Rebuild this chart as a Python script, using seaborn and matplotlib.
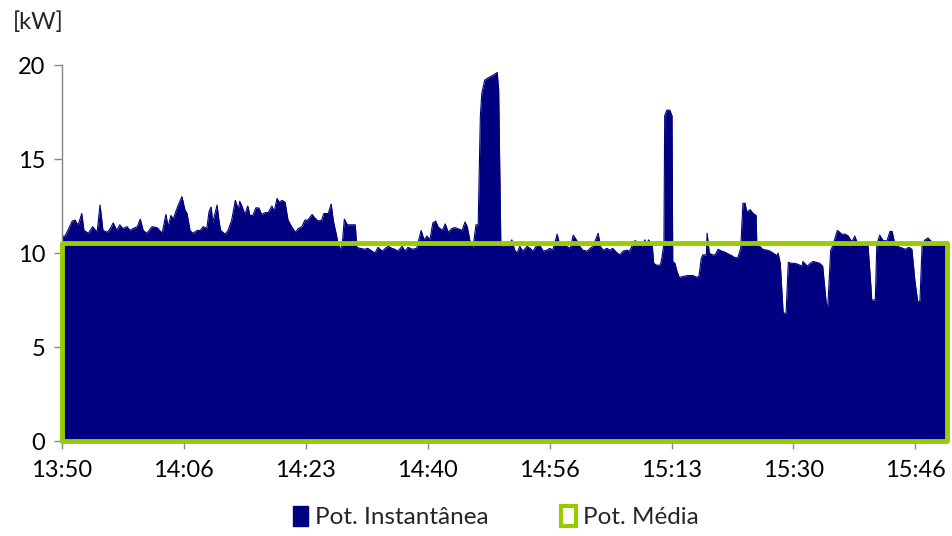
import numpy as np
import matplotlib
matplotlib.use("Agg")
import matplotlib.pyplot as plt
import matplotlib.patches as mpatches
import seaborn as sns

# minutes after 13:50 and instantaneous power (kW)
minutos = [
    0.0, 0.4, 0.8, 1.4, 1.8, 2.1, 2.3, 2.7, 3.0, 3.6, 4.2, 4.8, 5.2, 5.6, 6.2, 6.6,
    7.0, 7.5, 7.9, 8.3, 8.9, 9.3, 9.7, 10.3, 10.7, 11.1, 11.6, 12.3, 13.0, 13.7,
    14.2, 14.5, 14.9, 15.2, 15.6, 16.0, 16.4, 16.8, 17.1, 17.5, 17.9, 18.5, 18.9,
    19.3, 19.8, 20.1, 20.4, 20.6, 21.2, 21.5, 21.7, 22.3, 22.7, 23.2, 23.7, 24.1,
    24.3, 24.6, 25.0, 25.4, 25.7, 26.1, 26.5, 26.9, 27.3, 27.8, 28.2, 28.7, 29.0,
    29.4, 29.7, 30.1, 30.5, 30.9, 31.4, 31.9, 32.3, 32.8, 33.2, 33.6, 34.2, 34.6,
    35.0, 35.5, 35.8, 36.4, 36.8, 37.1, 37.5, 37.7, 38.0, 38.3, 38.6, 39.0, 39.7,
    40.1, 40.3, 40.7, 41.4, 41.8, 42.4, 42.8, 43.2, 43.8, 44.2, 44.6, 45.1, 45.5,
    45.9, 46.5, 46.9, 47.3, 47.9, 48.5, 49.1, 49.5, 49.9, 50.3, 50.7, 51.1, 51.4,
    52.0, 52.4, 52.8, 53.3, 53.7, 54.1, 54.7, 55.1, 55.4, 55.8, 56.2, 56.6, 56.9,
    57.2, 57.4, 57.8, 58.2, 58.9, 59.5, 59.7, 60.0, 60.6, 61.0, 61.5, 61.9, 62.2,
    62.6, 63.0, 63.6, 64.0, 64.4, 64.9, 65.4, 65.8, 66.3, 66.7, 67.1, 67.7, 68.1,
    68.5, 69.0, 69.5, 69.9, 70.4, 70.8, 71.2, 71.8, 72.2, 72.6, 73.3, 73.6, 74.0,
    74.5, 74.9, 75.3, 75.9, 76.3, 76.7, 77.2, 77.6, 77.9, 78.3, 78.7, 79.3, 79.7,
    79.9, 80.2, 80.7, 80.9, 81.3, 81.8, 82.0, 82.3, 82.4, 82.7, 83.1, 83.4, 83.5,
    83.8, 84.1, 84.4, 84.9, 85.5, 85.9, 86.3, 86.8, 87.1, 87.4, 87.6, 88.1, 88.2,
    88.5, 88.9, 89.3, 89.7, 90.2, 90.6, 91.1, 91.6, 92.0, 92.4, 92.8, 93.1, 93.4,
    93.6, 94.1, 94.5, 94.9, 95.0, 95.4, 95.8, 96.4, 96.8, 97.2, 97.8, 97.9, 98.2,
    98.6, 99.0, 99.3, 99.8, 100.2, 100.6, 101.2, 101.3, 101.9, 102.3, 102.7, 103.2,
    103.6, 104.0, 104.5, 104.7, 105.1, 105.4, 106.0, 106.2, 106.6, 107.1, 107.5,
    108.0, 108.4, 108.8, 109.5, 110.2, 110.6, 110.7, 111.2, 111.4, 111.8, 112.3,
    112.8, 113.2, 113.5, 113.9, 114.6, 115.3, 115.8, 116.2, 116.6, 117.0, 117.3,
    117.6, 118.0, 118.4, 118.9, 119.3, 119.7, 120.3, 121.0,
]
pot_inst = [
    10.9, 10.9, 11.2, 11.7, 11.75, 11.5, 11.6, 12.1, 11.2, 11.05, 11.4, 11.1, 12.55,
    11.2, 11.1, 11.3, 11.6, 11.2, 11.5, 11.3, 11.4, 11.2, 11.3, 11.4, 11.8, 11.2,
    11.05, 11.4, 11.35, 11.05, 12.05, 11.4, 12.0, 11.8, 12.25, 12.65, 13.0, 12.3,
    12.1, 11.2, 11.05, 11.2, 11.2, 11.4, 11.3, 12.2, 12.45, 11.6, 12.55, 11.6, 11.2,
    11.0, 11.2, 11.75, 12.8, 12.3, 12.75, 12.5, 12.05, 12.5, 12.0, 12.0, 12.4, 12.4,
    12.05, 12.15, 12.15, 12.5, 12.2, 12.9, 12.7, 12.8, 12.7, 11.75, 11.4, 11.1, 11.3,
    11.4, 11.75, 11.75, 12.05, 11.85, 11.7, 11.75, 12.1, 12.1, 12.6, 11.7, 11.0,
    10.6, 10.2, 10.4, 11.8, 11.5, 11.5, 11.5, 10.3, 10.25, 10.2, 10.25, 10.1, 10.0,
    10.3, 10.1, 10.25, 10.35, 10.25, 10.2, 10.1, 10.35, 10.1, 10.3, 10.2, 10.25,
    11.2, 10.7, 10.9, 10.7, 11.6, 11.7, 11.4, 11.2, 11.55, 11.1, 11.3, 11.35, 11.3,
    11.2, 11.65, 11.4, 10.6, 10.3, 11.5, 11.5, 17.3, 18.5, 19.2, 19.3, 19.45, 19.6,
    18.7, 10.4, 10.35, 10.35, 10.7, 10.15, 10.0, 10.35, 10.1, 10.35, 10.25, 10.1,
    10.4, 10.35, 10.1, 10.15, 10.25, 10.15, 11.0, 10.35, 10.35, 10.35, 10.25, 10.95,
    10.65, 10.35, 10.15, 10.1, 10.25, 10.35, 11.05, 10.35, 10.15, 10.25, 10.15,
    10.25, 10.0, 9.9, 10.1, 10.15, 10.1, 10.35, 10.65, 10.6, 10.35, 10.7, 10.4,
    10.7, 10.4, 9.45, 9.35, 9.35, 9.7, 10.5, 17.3, 17.6, 17.6, 17.3, 9.55, 9.45,
    9.0, 8.7, 8.75, 8.8, 8.8, 8.8, 8.7, 8.8, 9.7, 9.9, 9.9, 11.05, 10.0, 9.9, 9.9,
    10.2, 10.1, 10.05, 9.95, 9.85, 9.75, 9.75, 10.25, 12.65, 12.65, 12.2, 12.3,
    12.1, 12.0, 10.4, 10.35, 10.2, 10.15, 10.1, 10.0, 9.85, 10.0, 9.45, 6.8, 6.8,
    9.5, 9.45, 9.45, 9.4, 9.3, 9.55, 9.3, 9.45, 9.55, 9.5, 9.45, 9.3, 7.3, 7.15,
    10.15, 10.4, 11.2, 11.15, 11.0, 11.0, 10.9, 10.6, 10.9, 10.45, 10.45, 10.4, 8.2,
    7.5, 7.5, 10.45, 10.95, 10.65, 10.65, 11.15, 11.15, 10.4, 10.3, 10.2, 10.3,
    10.2, 8.55, 7.4, 7.45, 10.45, 10.7, 10.8, 10.6, 10.45, 10.45, 10.45, 10.4,
]
pot_media = 10.55  # kW

tick_labels = ["13:50", "14:06", "14:23", "14:40", "14:56", "15:13", "15:30", "15:46"]
tick_step = 1000 / 60  # 1000 s between labels, in minutes

navy = "#000080"
green = "#99CC00"
gray = "#868686"

sns.set_style("white")
plt.rcParams["font.family"] = ["Lato", "DejaVu Sans"]

fig = plt.figure(figsize=(9.52, 5.36), dpi=100)
ax = fig.add_axes([62 / 952, 1 - 441 / 536, (947 - 62) / 952, (441 - 65) / 536])

sns.lineplot(x=minutos, y=pot_inst, color=navy, lw=0.8, ax=ax)
ax.fill_between(minutos, pot_inst, color=navy, lw=0)

# average power drawn as an unfilled area (Excel style)
ax.fill_between([minutos[0], minutos[-1]], [pot_media, pot_media], facecolor="none",
                edgecolor=green, lw=3.5, clip_on=False, zorder=3)

ax.set_xlim(minutos[0], minutos[-1])
ax.set_ylim(0, 20)
ax.set_yticks([0, 5, 10, 15, 20])
ax.set_xticks(np.arange(len(tick_labels)) * tick_step)
ax.set_xticklabels(tick_labels)

for s in ["top", "right"]:
    ax.spines[s].set_visible(False)
for s in ["left", "bottom"]:
    ax.spines[s].set_color(gray)
    ax.spines[s].set_linewidth(1.0)
ax.tick_params(axis="both", which="major", direction="out", length=6, width=1,
               color=gray, labelsize=17, labelcolor="black", left=True, bottom=True)
ax.tick_params(axis="x", pad=8)
ax.tick_params(axis="y", pad=6)
ax.set_xlabel("")
ax.set_ylabel("")

fig.text(38 / 952, 1 - 22 / 536, "[kW]", ha="center", va="center", fontsize=17)

handles = [
    mpatches.Patch(facecolor=navy, edgecolor=navy, label="Pot. Instantânea"),
    mpatches.Patch(facecolor="white", edgecolor=green, lw=3, label="Pot. Média"),
]
fig.legend(handles=handles, loc="center", bbox_to_anchor=(496 / 952, 1 - 517 / 536),
           ncol=2, frameon=False, fontsize=17.5, handlelength=0.6, handleheight=0.9,
           handletextpad=0.3, columnspacing=3.0)

fig.savefig("out.png", dpi=100)
